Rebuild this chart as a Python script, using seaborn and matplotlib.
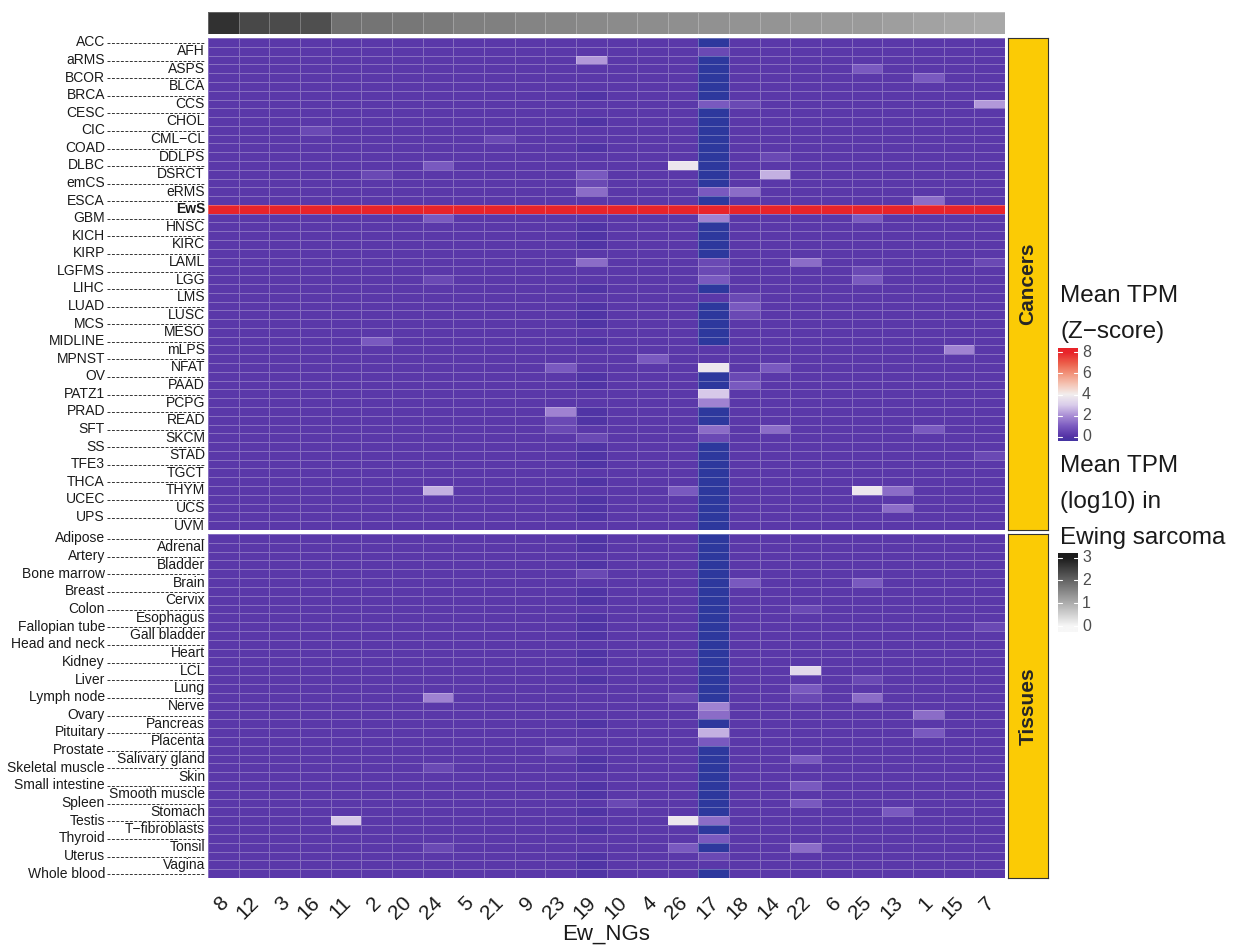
import numpy as np
import pandas as pd
import matplotlib
matplotlib.use("Agg")
import matplotlib.pyplot as plt
import matplotlib.transforms as mtransforms
from matplotlib.colors import LinearSegmentedColormap, Normalize
import seaborn as sns

# columns (Ew_NGs) in plotting order
ew_ngs = ["8", "12", "3", "16", "11", "2", "20", "24", "5", "21", "9", "23", "19",
          "10", "4", "26", "17", "18", "14", "22", "6", "25", "13", "1", "15", "7"]

# top annotation: mean TPM (log10) in Ewing sarcoma
ewing_log10 = [2.70, 2.40, 2.35, 2.30, 1.85, 1.80, 1.75, 1.70, 1.65, 1.62, 1.58, 1.55, 1.50,
               1.48, 1.45, 1.42, 1.40, 1.38, 1.35, 1.32, 1.30, 1.27, 1.23, 1.17, 1.12, 1.08]

cancers = ["ACC", "AFH", "aRMS", "ASPS", "BCOR", "BLCA", "BRCA", "CCS", "CESC", "CHOL",
           "CIC", "CML\u2212CL", "COAD", "DDLPS", "DLBC", "DSRCT", "emCS", "eRMS", "ESCA", "EwS",
           "GBM", "HNSC", "KICH", "KIRC", "KIRP", "LAML", "LGFMS", "LGG", "LIHC", "LMS",
           "LUAD", "LUSC", "MCS", "MESO", "MIDLINE", "mLPS", "MPNST", "NFAT", "OV", "PAAD",
           "PATZ1", "PCPG", "PRAD", "READ", "SFT", "SKCM", "SS", "STAD", "TFE3", "TGCT",
           "THCA", "THYM", "UCEC", "UCS", "UPS", "UVM"]

tissues = ["Adipose", "Adrenal", "Artery", "Bladder", "Bone marrow", "Brain", "Breast",
           "Cervix", "Colon", "Esophagus", "Fallopian tube", "Gall bladder", "Head and neck",
           "Heart", "Kidney", "LCL", "Liver", "Lung", "Lymph node", "Nerve", "Ovary",
           "Pancreas", "Pituitary", "Placenta", "Prostate", "Salivary gland",
           "Skeletal muscle", "Skin", "Small intestine", "Smooth muscle", "Spleen",
           "Stomach", "Testis", "T\u2212fibroblasts", "Thyroid", "Tonsil", "Uterus", "Vagina",
           "Whole blood"]

# Z-score, one character per cell
code_value = {"-": -0.9, ":": -0.12, ".": 0.15, "1": 0.55, "2": 0.95, "3": 1.35,
              "4": 1.75, "5": 2.15, "6": 2.55, "7": 2.95, "8": 3.35, "9": 3.75, "R": 8.0}

cancer_cells = [
    "..... ..... ..... .-... ..... .",  # ACC
    "..... ..... ..... .1... ..... .",  # AFH
    "..... ..... ..5.. .-... ..... .",  # aRMS
    "..... ..... ..... .-... .2... .",  # ASPS
    "..... ..... ..... .-... ...2. .",  # BCOR
    "..... ..... ..... .-... ..... .",  # BLCA
    "..... ..... ..:.. .-... ..... .",  # BRCA
    "..... ..... ..... .21.. ..... 5",  # CCS
    "..... ..... ..... .-... ..... .",  # CESC
    "..... ..... ..:.. .-... ..... .",  # CHOL
    "...1. ..... ..... .-... ..... .",  # CIC
    "..... ....1 ..... .-... ..... .",  # CML-CL
    "..... ..... ..:.. .-... ..... .",  # COAD
    "..... ..... ..... .-.1. ..... .",  # DDLPS
    "..... ..2.. ..... 9-... ..... .",  # DLBC
    "..... 1.... ..2.. .-.6. ..... .",  # DSRCT
    "..... ..... ..1.. .-... ..... .",  # emCS
    "..... ..... ..3.. .23.. ..... .",  # eRMS
    "..... ..... ..... .-... ...3. .",  # ESCA
    "RRRRR RRRRR RRRRR RRRRR RRRRR R",  # EwS
    "..... ..2.. ..... .4... .2... .",  # GBM
    "..... ..... ..:.. .-... ..... .",  # HNSC
    "..... ..... ..:.. .-... ..... .",  # KICH
    "..... ..... ..:.. .-... ..... .",  # KIRC
    "..... ..... ..... .-... ..... .",  # KIRP
    "..... ..... ..3.. .1..3 ..... 1",  # LAML
    "..... ..... ..... .1... .1... .",  # LGFMS
    "..... ..1.. ..... .2... .2... .",  # LGG
    "..... ..... ..:.. .-... ..... .",  # LIHC
    "..... ..... ..... ..1.. ..... .",  # LMS
    "..... ..... ..:.. .-2.. ..... .",  # LUAD
    "..... ..... ..:.. .-1.. ..... .",  # LUSC
    "..... ..... ..:.. .-... ..... .",  # MCS
    "..... ..... ..... .-... ..... .",  # MESO
    "..... 2.... ..:.. .-... ..... .",  # MIDLINE
    "..... ..... ..... ..... ....4 .",  # mLPS
    "..... ..... ....2 ..... ..... .",  # MPNST
    "..... ..... .2... .9.2. ..... .",  # NFAT
    "..... ..... ..:.. .-1.. ..... .",  # OV
    "..... ..... ..:.. .-2.. ..... .",  # PAAD
    "..... ..... ..... .7... ..... .",  # PATZ1
    "..... ..... ..... .4... ..... .",  # PCPG
    "..... ..... .4:.. .-... ..... .",  # PRAD
    "..... ..... .1:.. .-... ..... .",  # READ
    "..... ..... .1... .3.3. ...2. .",  # SFT
    "..... ..... ..1.. .1... ..... .",  # SKCM
    "..... ..... ..:.. .-... ..... .",  # SS
    "..... ..... ..:.. .-... ..... 1",  # STAD
    "..... ..... ..:.. .-... ..... .",  # TFE3
    "..... ..... ..... .-... ..... .",  # TGCT
    "..... ..... ..:.. .-... ..... .",  # THCA
    "..... ..6.. ..... 2-... .93.. .",  # THYM
    "..... ..... ..:.. .-... ..... .",  # UCEC
    "..... ..... ..:.. .-... ..3.. .",  # UCS
    "..... ..... ..:.. .-... ..... .",  # UPS
    "..... ..... ..... .-... ..... .",  # UVM
]

tissue_cells = [
    "..... ..... ..:.. .-... ..... .",  # Adipose
    "..... ..... ..:.. .-... ..... .",  # Adrenal
    "..... ..... ..... .-... ..... .",  # Artery
    "..... ..... ..:.. .-... ..... .",  # Bladder
    "..... ..... ..1.. .-... ..... .",  # Bone marrow
    "..... ..... ..... .-2.. .2... .",  # Brain
    "..... ..... ..:.. .-... ..... .",  # Breast
    "..... ..... ..:.. .-... ..... .",  # Cervix
    "..... ..... ..... .-..1 ..... .",  # Colon
    "..... ..... ..:.. .-... ..... .",  # Esophagus
    "..... ..... ..:.. .-... ..... 1",  # Fallopian tube
    "..... ..... ..:.. .-... ..... .",  # Gall bladder
    "..... ..... ..... .-... ..... .",  # Head and neck
    "..... ..... ..:.. .-... ..... .",  # Heart
    "..... ..... ..:.. .-... ..... .",  # Kidney
    "..... ..... ..... .-..8 ..... .",  # LCL
    "..... ..... ..:.. .-... .1... .",  # Liver
    "..... ..... ..... .-..2 ..... .",  # Lung
    "..... ..4.. ..... 1-..1 .3... .",  # Lymph node
    "..... ..... ..... .4... ..... .",  # Nerve
    "..... ..... ..... .3... ...3. .",  # Ovary
    "..... ..... ..:.. .-... ..... .",  # Pancreas
    "..... ..... ..... .6... ...2. .",  # Pituitary
    "..... ..... ..... .2... ..... .",  # Placenta
    "..... ..... .1... .-... ..... .",  # Prostate
    "..... ..... ..:.. .-..2 ..... .",  # Salivary gland
    "..... ..1.. ..:.. .-... ..... .",  # Skeletal muscle
    "..... ..... ..... .-... ..... .",  # Skin
    "..... ..... ..:.. .-..2 ..... .",  # Small intestine
    "..... ..... ..:.. .-... ..... .",  # Smooth muscle
    "..... ..... ...1. .-..2 ..... .",  # Spleen
    "..... ..... ..:.. .-... ..2.. .",  # Stomach
    "....7 ..... ..... 93... ..... .",  # Testis
    "..... ..... ..:.. .-... ..... .",  # T-fibroblasts
    "..... ..... ..... .2... ..... .",  # Thyroid
    "..... ..1.. ..... 2-..3 ..... .",  # Tonsil
    "..... ..... ..:.. .1... ..... .",  # Uterus
    "..... ..... ..:.. ..... ..... .",  # Vagina
    "..... ..... ..:.. .-... ..... .",  # Whole blood
]


def decode(rows, names):
    vals = [[code_value[c] for c in r.replace(" ", "")] for r in rows]
    return pd.DataFrame(vals, index=names, columns=ew_ngs)


df_cancer = decode(cancer_cells, cancers)
df_tissue = decode(tissue_cells, tissues)
df_top = pd.DataFrame([ewing_log10], columns=ew_ngs)

sns.set_style("white")
plt.rcParams["font.family"] = ["Liberation Sans", "DejaVu Sans"]

zmin, zmax = -1.0, 8.0
z_cmap = LinearSegmentedColormap.from_list("zscore", [
    (0.000, "#2A389C"), (0.111, "#5533A6"), (0.222, "#7B5BC0"), (0.333, "#AA8FD6"),
    (0.444, "#D9CCEA"), (0.556, "#F2EEEE"), (0.667, "#F5C4B4"), (0.778, "#F2937A"),
    (0.889, "#EC5E4A"), (1.000, "#E8242A")])
g_cmap = LinearSegmentedColormap.from_list("grey", ["#F7F7F7", "#1C1C1C"])

W, H = 1244, 952
fig = plt.figure(figsize=(W / 100, H / 100), dpi=100)


def box(x0, y0, x1, y1):
    return [x0 / W, 1 - y1 / H, (x1 - x0) / W, (y1 - y0) / H]


hx0, hx1 = 208, 1005
ax_top = fig.add_axes(box(hx0, 12, hx1, 34))
ax_c = fig.add_axes(box(hx0, 38, hx1, 530))
ax_t = fig.add_axes(box(hx0, 534, hx1, 878))

sns.heatmap(df_top, ax=ax_top, cmap=g_cmap, vmin=0, vmax=3, cbar=False,
            linewidths=0.5, linecolor=(1, 1, 1, 0.25))
grid_col = (1, 1, 1, 0.28)
sns.heatmap(df_cancer, ax=ax_c, cmap=z_cmap, vmin=zmin, vmax=zmax, cbar=False,
            linewidths=0.5, linecolor=grid_col)
sns.heatmap(df_tissue, ax=ax_t, cmap=z_cmap, vmin=zmin, vmax=zmax, cbar=False,
            linewidths=0.5, linecolor=grid_col)

for a in (ax_top, ax_c, ax_t):
    a.set_yticks([])
    a.set_ylabel("")
    a.set_xlabel("")
ax_top.set_xticks([])
ax_c.set_xticks([])

ax_t.set_xticks(np.arange(len(ew_ngs)) + 0.5)
ax_t.set_xticklabels(ew_ngs, rotation=45, ha="right", va="top",
                     rotation_mode="anchor", fontsize=15, color="#1a1a1a")
ax_t.tick_params(axis="x", length=0, pad=11)
shift = mtransforms.ScaledTranslation(-5 / 100, 0, fig.dpi_scale_trans)
for lab in ax_t.get_xticklabels():
    lab.set_transform(lab.get_transform() + shift)
fig.text((hx0 + hx1) / 2 / W, 1 - 934 / H, "Ew_NGs", fontsize=16,
         ha="center", va="center", color="#1a1a1a")

# alternating row labels with dashed leaders
pw = hx1 - hx0
x_far = (105 - hx0) / pw
x_near = (205 - hx0) / pw
for ax, names in ((ax_c, cancers), (ax_t, tissues)):
    tr = mtransforms.blended_transform_factory(ax.transAxes, ax.transData)
    for i, name in enumerate(names):
        y = i + 0.5
        weight = "bold" if name == "EwS" else "normal"
        if i % 2 == 0:
            ax.text(x_far, y, name, transform=tr, ha="right", va="center",
                    fontsize=10, color="#1a1a1a", clip_on=False)
            ax.plot([x_far + 0.002, -0.004], [y + 0.08, y + 0.08], transform=tr,
                    color="#333333", lw=0.7, ls=(0, (3, 1.6)), clip_on=False)
        else:
            ax.text(x_near, y, name, transform=tr, ha="right", va="center",
                    fontsize=10, color="#1a1a1a", fontweight=weight, clip_on=False)

# facet strips
for (y0, y1), lab in (((38, 530), "Cancers"), ((534, 878), "Tissues")):
    s = fig.add_axes(box(1008, y0, 1048, y1))
    s.set_facecolor("#FBCB05")
    s.set_xticks([])
    s.set_yticks([])
    for sp in s.spines.values():
        sp.set_color("#333333")
        sp.set_linewidth(0.8)
    s.text(0.5, 0.5, lab, rotation=90, ha="center", va="center",
           fontsize=15, fontweight="bold", transform=s.transAxes)


# legends
def colourbar(y0, y1, lo, hi, cmap, norm, ticks, title_lines, title_y):
    for k, line in enumerate(title_lines):
        fig.text(1060 / W, 1 - (title_y + 36 * k) / H, line, fontsize=17.5,
                 ha="left", va="center", color="#1a1a1a")
    cax = fig.add_axes(box(1058, y0, 1078, y1))
    grad = np.linspace(lo, hi, 256).reshape(-1, 1)
    cax.imshow(grad, aspect="auto", origin="lower", cmap=cmap, norm=norm,
               extent=[0, 1, lo, hi])
    cax.set_xlim(0, 1)
    cax.set_ylim(lo, hi)
    cax.set_xticks([])
    cax.set_yticks([])
    for sp in cax.spines.values():
        sp.set_visible(False)
    for t in ticks:
        cax.plot([0, 0.2], [t, t], color="white", lw=0.8)
        cax.plot([0.8, 1], [t, t], color="white", lw=0.8)
        cax.text(1.2, t, str(t), ha="left", va="center", fontsize=11.5,
                 color="#4d4d4d", transform=cax.transData, clip_on=False)


colourbar(348, 441, -0.4, 8.4, z_cmap, Normalize(zmin, zmax), [0, 2, 4, 6, 8],
          ["Mean TPM", "(Z\u2212score)"], 296)
colourbar(553, 632, -0.25, 3.2, g_cmap, Normalize(0, 3), [0, 1, 2, 3],
          ["Mean TPM", "(log10) in", "Ewing sarcoma"], 466)

fig.savefig("out.png", dpi=100)
